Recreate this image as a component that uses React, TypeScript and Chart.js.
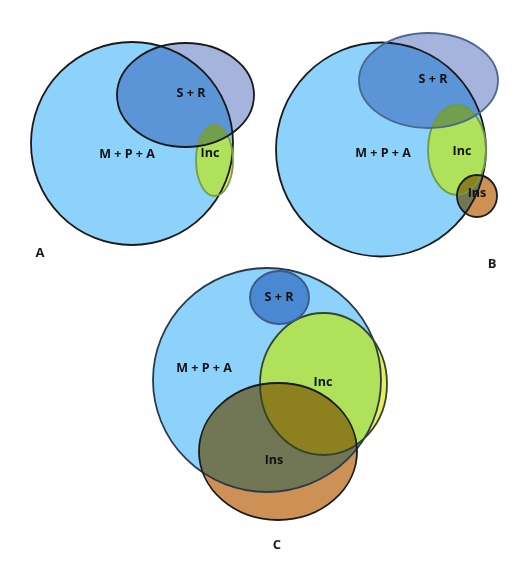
import React, { useEffect, useRef } from "react";
import { Chart, registerables } from "chart.js";

Chart.register(...registerables);

// Panels of the Venn diagram
const panelNames = ["A", "B", "C"];
const panelLabelX = [40, 492, 277];
const panelLabelY = [253, 264, 545];

// Sets (one entry per set per panel)
const setNames = [
  "M + P + A", "Inc", "S + R",
  "M + P + A", "Inc", "S + R", "Ins",
  "M + P + A", "Inc", "S + R", "Ins",
];
const setPanel = [0, 0, 0, 1, 1, 1, 1, 2, 2, 2, 2];
const setCx = [132, 214.5, 185.5, 381, 457, 428.5, 477, 267, 323.5, 279.5, 278];
const setCy = [143.5, 160.5, 95, 149.5, 150, 80.5, 196, 380, 384, 297.5, 451.5];
const setRx = [101, 18.5, 68.5, 105, 29, 69.5, 20, 114, 63.5, 29.5, 79];
const setRy = [101.5, 35.5, 52, 107, 45, 47.5, 21, 112, 71, 26.5, 68.5];
const labelX = [127, 210, 191, 383, 462, 433, 477, 204, 323, 279, 274];
const labelY = [154, 153, 93, 153, 151, 79, 193, 368, 382, 297, 460];

// Styles
const fillColor: Record<string, string> = {
  "M + P + A": "#8cd2fa",
  "S + R": "#a5b4dc",
  "Ins": "#cd9155",
};
const srFillC = "#87a5d7";
const incInside = "#afe15a";
const incOutside = "#e6ee5e";
const strokeColors = [
  "#1a1a1a", "#7a9a48", "#1a1a1a",
  "#1a1a1a", "#6f9a48", "#4a6890", "#1a1a1a",
  "#2a3a4a", "#344428", "#3a5a8a", "#1a1a1a",
];

const vennPlugin = {
  id: "venn",
  beforeDatasetsDraw(chart: any) {
    const { ctx, scales } = chart;
    const xs = scales.x;
    const ys = scales.y;
    const px = (v: number) => xs.getPixelForValue(v);
    const py = (v: number) => ys.getPixelForValue(v);
    const path = (i: number) => {
      const cx = px(setCx[i]);
      const cy = py(setCy[i]);
      const rx = Math.abs(px(setCx[i] + setRx[i]) - cx);
      const ry = Math.abs(py(setCy[i] + setRy[i]) - cy);
      ctx.beginPath();
      ctx.ellipse(cx, cy, rx, ry, 0, 0, Math.PI * 2);
    };
    ctx.save();
    ctx.fillStyle = "#ffffff";
    ctx.fillRect(0, 0, chart.width, chart.height);

    panelNames.forEach((_, p) => {
      const idx = setNames.map((_, i) => i).filter((i) => setPanel[i] === p);
      const big = idx.find((i) => setNames[i] === "M + P + A")!;
      const inc = idx.find((i) => setNames[i] === "Inc");
      const sr = idx.find((i) => setNames[i] === "S + R");
      const ins = idx.find((i) => setNames[i] === "Ins");

      ctx.globalCompositeOperation = "source-over";
      path(big);
      ctx.fillStyle = fillColor["M + P + A"];
      ctx.fill();

      if (inc !== undefined) {
        path(inc);
        ctx.fillStyle = incOutside;
        ctx.fill();
        ctx.save();
        path(big);
        ctx.clip();
        path(inc);
        ctx.fillStyle = incInside;
        ctx.fill();
        ctx.restore();
      }

      ctx.globalCompositeOperation = "multiply";
      if (sr !== undefined) {
        path(sr);
        ctx.fillStyle = p === 2 ? srFillC : fillColor["S + R"];
        ctx.fill();
      }
      if (ins !== undefined) {
        path(ins);
        ctx.fillStyle = fillColor["Ins"];
        ctx.fill();
      }
      ctx.globalCompositeOperation = "source-over";

      idx.forEach((i) => {
        path(i);
        ctx.strokeStyle = strokeColors[i];
        ctx.lineWidth = 1.8;
        ctx.stroke();
      });

      ctx.fillStyle = "#111111";
      ctx.textAlign = "center";
      ctx.textBaseline = "middle";
      ctx.font = "bold 12.5px 'Open Sans', sans-serif";
      idx.forEach((i) => {
        ctx.fillText(setNames[i], px(labelX[i]), py(labelY[i]));
      });
      ctx.font = "bold 13px 'Open Sans', sans-serif";
      ctx.fillStyle = "#1a1a1a";
      ctx.fillText(panelNames[p], px(panelLabelX[p]), py(panelLabelY[p]));
    });
    ctx.restore();
  },
};

export default function App() {
  const ref = useRef<HTMLCanvasElement>(null);
  useEffect(() => {
    if (!ref.current) return;
    const chart = new Chart(ref.current, {
      type: "scatter",
      data: {
        datasets: [
          {
            label: "sets",
            data: setCx.map((x, i) => ({ x, y: setCy[i] })),
            pointRadius: 0,
            pointHoverRadius: 0,
          },
        ],
      },
      options: {
        responsive: false,
        animation: false,
        events: [],
        layout: { padding: 0 },
        plugins: { legend: { display: false }, tooltip: { enabled: false } },
        scales: {
          x: { type: "linear", min: 0, max: 532, display: false },
          y: { type: "linear", min: 0, max: 567, reverse: true, display: false },
        },
      },
      plugins: [vennPlugin],
    });
    return () => chart.destroy();
  }, []);
  return (
    <div style={{ position: "fixed", left: 0, top: 0, width: 532, height: 567, background: "#fff" }}>
      <canvas ref={ref} width={532} height={567} style={{ display: "block", width: 532, height: 567 }} />
    </div>
  );
}
